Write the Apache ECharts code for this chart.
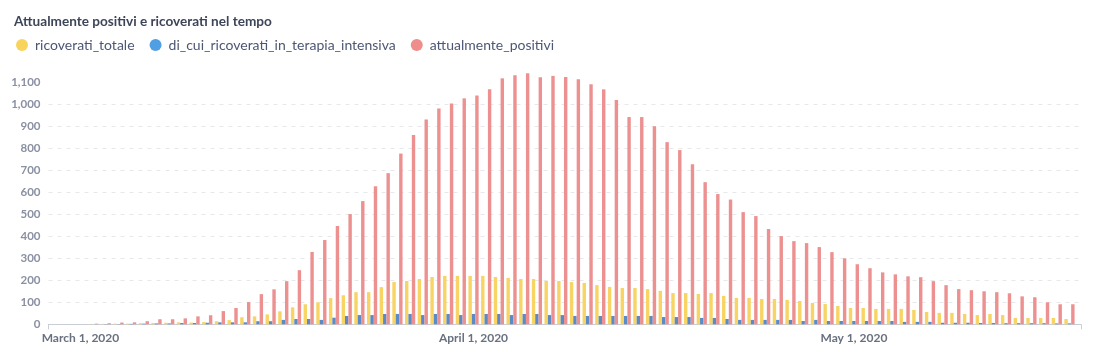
<!DOCTYPE html>
<html><head><meta charset="utf-8">
<script src="https://cdn.jsdelivr.net/npm/echarts@6/dist/echarts.min.js"></script>
<style>html,body{margin:0;padding:0;background:#fff}#c{width:1099px;height:361px}</style>
</head><body><div id="c"></div>
<script>
// first date of the series; one value per consecutive day
const firstDate = '2020-03-01';
const seriesNames = ['ricoverati_totale', 'di_cui_ricoverati_in_terapia_intensiva', 'attualmente_positivi'];
const ricoverati_totale = [0,
  1,2,3,3,5,6,7,9,8,10,
  14,19,32,36,45,59,77,91,100,119,
  132,146,146,169,192,197,206,215,220,220,
  220,220,215,211,206,206,197,197,192,188,
  178,170,165,165,160,152,142,142,138,142,
  129,120,120,115,115,111,106,97,92,83,
  74,74,70,70,70,65,56,52,52,47,
  42,47,42,29,29,29,29,24];
const terapia_intensiva = [0,
  0,1,1,2,3,4,4,6,6,7,
  9,9,9,14,14,20,24,24,20,30,
  38,42,42,47,47,47,42,47,47,42,
  47,47,47,42,47,47,42,42,38,38,
  38,38,38,38,38,33,33,33,29,29,
  24,20,20,20,20,20,15,20,15,15,
  15,15,15,15,11,11,11,7,7,7,
  6,6,5,5,5,5,4,4];
const attualmente_positivi = [0,
  3,5,8,9,14,23,23,27,36,41,
  60,74,101,137,159,196,246,329,383,447,
  501,560,628,687,776,861,931,981,1004,1027,
  1040,1068,1118,1132,1141,1123,1129,1124,1114,1091,
  1068,1019,942,942,900,828,792,728,646,592,
  567,510,492,433,401,378,369,351,328,300,
  273,255,236,227,218,214,196,178,160,155,
  150,146,141,127,123,100,91,91];
const xTickDates = ['2020-03-01', '2020-04-01', '2020-05-01'];
const xTickLabels = ['March 1, 2020', 'April 1, 2020', 'May 1, 2020'];
const yTicks = [0,100,200,300,400,500,600,700,800,900,1000,1100];

const DAY = 86400000;
function ts(s){ const p = s.split('-').map(Number); return Date.UTC(p[0], p[1]-1, p[2]); }
const t0 = ts(firstDate);
// x position = day offset from firstDate
const dayOf = s => Math.round((ts(s) - t0) / DAY);
const pair = arr => arr.map((v, i) => [i, v]);
const xMin = -2.52;
const xMax = attualmente_positivi.length - 1 + 0.91;
const tickDays = xTickDates.map(dayOf);

const legendColors = ['#F9D45C', '#509EE3', '#EF8C8C'];
const barColors = ['#F7D463', '#5A8BC6', '#EC9090'];
const chart = echarts.init(document.getElementById('c'), null, {renderer: 'canvas'});
chart.setOption({
  animation: false,
  color: legendColors,
  title: {
    text: 'Attualmente positivi e ricoverati nel tempo',
    left: 9, top: 10,
    textStyle: {fontFamily: 'Lato', fontSize: 13.6, fontWeight: 'bold', color: '#3D4558'}
  },
  legend: {
    left: 16, top: 38, padding: 0,
    icon: 'circle', itemWidth: 12, itemHeight: 12, itemGap: 15,
    textStyle: {fontFamily: 'Lato', fontSize: 14, color: '#4C5773', padding: [0, 0, 0, 2]},
    data: seriesNames.map((n, i) => ({name: n, itemStyle: {color: legendColors[i]}}))
  },
  grid: {left: 48.5, right: 18, top: 82.3, bottom: 36.7, containLabel: false},
  xAxis: {
    type: 'value', min: xMin, max: xMax,
    axisLine: {show: true, lineStyle: {color: '#C9CDD6', width: 1}},
    axisTick: {show: true, customValues: [xMin, xMax], length: 5, lineStyle: {color: '#C9CDD6'}},
    axisLabel: {
      customValues: tickDays,
      formatter: v => { const i = tickDays.indexOf(Math.round(v)); return i >= 0 ? xTickLabels[i] : ''; },
      fontFamily: 'Lato', fontSize: 12, fontWeight: 'bold', color: '#69707F', margin: 8
    },
    splitLine: {show: false}
  },
  yAxis: {
    type: 'value', min: yTicks[0], max: yTicks[yTicks.length - 1], interval: 100,
    axisLine: {show: false}, axisTick: {show: false},
    axisLabel: {
      formatter: v => v.toLocaleString('en-US'),
      fontFamily: 'Lato', fontSize: 11.5, fontWeight: 'bold', color: '#8A90A2', margin: 8
    },
    splitLine: {show: true, showMaxLine: false, lineStyle: {type: [4, 5], color: '#E6E8EC', width: 1}}
  },
  series: [0, 1, 2].map(i => ({
    name: seriesNames[i], type: 'bar',
    data: pair([ricoverati_totale, terapia_intensiva, attualmente_positivi][i]),
    barWidth: 3.4, barGap: '0%', clip: false,
    itemStyle: {color: barColors[i]}
  }))
});
</script></body></html>
